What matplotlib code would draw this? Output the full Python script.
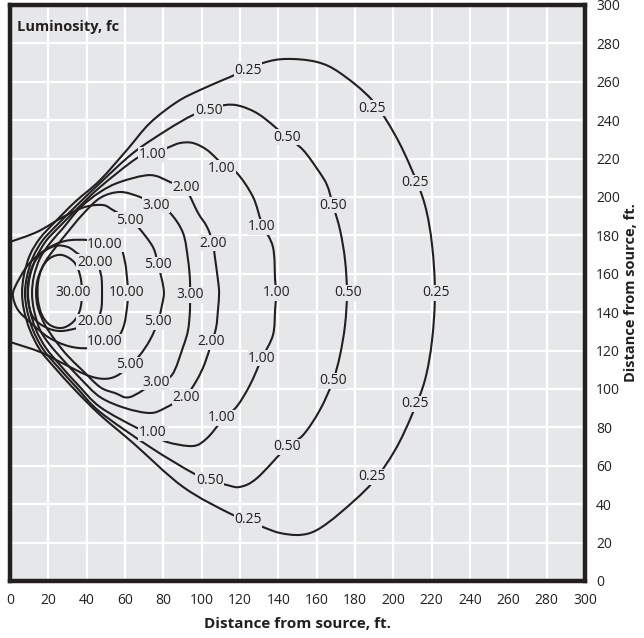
import matplotlib
matplotlib.use("Agg")
import matplotlib.pyplot as plt
from matplotlib import font_manager
from matplotlib.path import Path
from matplotlib.patches import PathPatch

# ---------------- data (in data units: ft) ----------------
x_ticks = list(range(0, 301, 20))
y_ticks = list(range(0, 301, 20))

levels = ["0.25", "0.50", "1.00", "2.00", "3.00", "5.00", "10.00", "20.00", "30.00"]

c025 = [(47.0, 208.8), (61.0, 224.5), (73.0, 238.5), (87.1, 249.5), (99.1, 255.7), (114.8, 262.5),
        (132.0, 269.8), (144.5, 271.9), (160.2, 270.3), (172.2, 264.6), (188.9, 250.5), (200.9, 232.3),
        (209.7, 214.0), (216.5, 195.8), (220.2, 175.0), (221.7, 150.0), (220.2, 125.5), (216.5, 104.7),
        (209.7, 86.5), (200.9, 68.2), (188.9, 51.0), (172.2, 35.4), (160.2, 26.6), (151.3, 24.0),
        (140.9, 25.0), (132.0, 28.1), (116.3, 34.4), (90.3, 49.0), (64.2, 71.9), (47.0, 86.5),
        (33.9, 99.5), (23.5, 110.9), (15.7, 120.3), (10.4, 130.7), (7.3, 141.1), (6.3, 150.0),
        (7.3, 159.4), (10.4, 169.8), (15.7, 178.6), (23.5, 187.0), (33.9, 197.4), (47.0, 208.8)]

c050 = [(47.0, 207.3), (64.2, 222.9), (81.9, 234.9), (95.5, 242.7), (104.0, 245.3), (112.2, 247.9),
        (120.0, 247.4), (130.4, 242.7), (144.5, 231.2), (152.9, 224.5), (160.7, 214.0), (165.4, 206.2),
        (168.5, 195.8), (172.2, 182.8), (174.8, 167.2), (175.8, 150.0), (174.8, 133.3), (172.2, 117.7),
        (168.5, 104.2), (161.7, 89.1), (152.9, 76.0), (144.5, 69.8), (128.9, 53.6), (120.0, 49.0),
        (113.2, 50.0), (104.3, 52.6), (95.5, 56.2), (73.0, 69.8), (47.0, 88.0), (35.0, 100.5),
        (25.0, 111.5), (17.2, 120.8), (12.0, 130.7), (8.9, 141.1), (7.8, 150.0), (8.9, 158.8),
        (12.0, 168.7), (17.2, 177.6), (25.0, 185.9), (35.0, 195.8), (47.0, 207.3)]

c100 = [(47.0, 205.2), (66.3, 220.3), (74.6, 222.4), (81.9, 225.5), (88.7, 228.1), (95.5, 228.1),
        (102.8, 224.5), (110.6, 217.5), (118.4, 212.5), (126.8, 200.0), (131.5, 186.0), (137.2, 173.9),
        (138.3, 156.8), (138.8, 150.0), (138.3, 141.1), (137.2, 128.1), (131.5, 116.1), (125.2, 102.1),
        (118.4, 91.0), (110.6, 83.5), (102.8, 74.4), (95.5, 70.3), (81.9, 72.4), (74.6, 76.5),
        (66.3, 79.7), (47.0, 90.6), (35.5, 102.1), (26.1, 112.5), (18.8, 121.3), (13.6, 130.7),
        (10.4, 141.1), (9.4, 150.0), (10.4, 158.8), (13.6, 168.2), (18.8, 177.1), (26.1, 184.9),
        (35.5, 194.3), (47.0, 205.2)]

c200 = [(47.0, 202.6), (57.4, 207.8), (73.0, 211.4), (83.5, 207.8), (91.8, 203.5), (98.1, 191.7),
        (102.8, 184.4), (105.9, 176.0), (106.9, 168.7), (108.5, 156.8), (109.1, 150.0), (108.5, 141.1),
        (107.5, 131.8), (104.9, 123.5), (101.7, 113.5), (97.5, 104.7), (91.8, 96.8), (80.9, 90.1),
        (73.0, 87.5), (60.0, 90.1), (47.0, 95.8), (36.5, 105.7), (27.7, 115.1), (20.9, 122.9),
        (15.7, 130.7), (12.5, 141.1), (11.5, 150.0), (12.5, 158.8), (15.7, 168.2), (20.9, 176.0),
        (27.7, 183.8), (36.5, 194.3), (47.0, 202.6)]

c300 = [(47.0, 199.5), (57.4, 202.6), (67.8, 200.0), (76.2, 195.8), (83.5, 191.7), (90.3, 181.2),
        (92.9, 167.2), (93.9, 156.8), (93.9, 150.0), (93.9, 141.1), (92.9, 130.7), (90.3, 121.9),
        (84.5, 107.3), (76.2, 103.6), (62.6, 95.8), (54.8, 97.9), (47.0, 101.0), (37.6, 109.9),
        (29.7, 117.7), (23.5, 125.5), (18.3, 133.3), (14.6, 142.2), (13.6, 150.0), (14.6, 157.8),
        (18.3, 166.1), (23.5, 173.4), (29.7, 181.2), (37.6, 190.6), (47.0, 199.5)]

c500 = [(0.0, 176.6), (14.1, 181.8), (27.7, 189.6), (39.1, 194.8), (48.5, 195.8), (53.7, 193.2),
        (62.6, 188.0), (66.8, 184.4), (74.6, 173.9), (77.2, 164.6), (79.3, 156.8), (80.3, 150.0),
        (79.3, 143.7), (77.2, 134.9), (73.0, 125.5), (67.8, 117.7), (62.6, 112.5), (56.0, 107.0),
        (49.0, 105.3), (40.0, 107.3), (26.1, 114.1), (15.7, 119.3), (0.0, 124.5)]

c1000 = [(49.6, 176.0), (57.4, 173.9), (60.0, 166.1), (61.0, 158.3), (61.6, 150.0), (61.0, 142.2),
         (59.5, 133.3), (56.3, 127.1), (49.6, 124.2), (40.7, 121.3), (30.3, 122.4), (19.8, 127.1),
         (10.4, 134.9), (4.2, 141.1), (1.6, 147.9), (2.6, 153.1), (9.4, 164.6), (18.3, 172.4),
         (28.7, 177.1), (40.7, 177.6), (49.6, 176.0)]

c2000 = [(44.3, 166.7), (47.5, 159.4), (48.0, 150.0), (47.5, 141.1), (44.3, 134.4), (35.5, 131.8),
         (26.1, 130.2), (18.3, 132.3), (12.0, 137.5), (9.4, 146.3), (9.4, 155.2), (12.0, 164.6),
         (16.7, 170.8), (23.5, 174.5), (30.3, 173.9), (36.5, 169.8), (44.3, 166.7)]

c3000 = [(27.1, 169.8), (33.4, 166.1), (36.5, 159.4), (37.6, 150.5), (36.5, 141.1), (32.9, 134.9),
         (27.1, 131.8), (20.9, 133.3), (16.7, 138.5), (14.6, 146.3), (14.6, 155.2), (16.7, 163.0),
         (20.9, 168.2), (27.1, 169.8)]

lab025 = [(124.2, 266.1), (188.9, 246.3), (211.3, 207.3), (222.2, 150.0), (211.3, 92.2), (188.9, 54.2), (124.2, 31.8)]
lab050 = [(103.8, 245.3), (144.5, 231.2), (168.5, 195.8), (176.3, 150.0), (168.5, 104.2), (144.5, 69.8), (104.3, 52.6)]
lab100 = [(74.6, 221.9), (110.6, 215.1), (131.5, 184.4), (139.3, 150.0), (131.5, 116.1), (110.6, 84.9), (74.6, 77.1)]
lab200 = [(91.8, 204.7), (105.9, 176.0), (104.9, 124.5), (91.8, 95.8)]
lab300 = [(76.2, 195.8), (93.9, 149.0), (76.2, 103.6)]
lab500 = [(62.6, 188.0), (77.2, 164.6), (77.2, 134.9), (62.6, 112.5)]
lab1000 = [(49.6, 175.5), (61.0, 150.0), (49.6, 124.5)]
lab2000 = [(44.3, 166.1), (44.3, 134.9)]
lab3000 = [(32.9, 150.0)]

curves = [c025, c050, c100, c200, c300, c500, c1000, c2000, c3000]
labels = [lab025, lab050, lab100, lab200, lab300, lab500, lab1000, lab2000, lab3000]

# ---------------- style ----------------
names = {f.name for f in font_manager.fontManager.ttflist}
FONT = "Liberation Sans Narrow" if "Liberation Sans Narrow" in names else "Open Sans"
plt.rcParams["font.family"] = [FONT, "DejaVu Sans"]

BG = "#e6e7e8"
INK = "#231f20"


def smooth_path(pts):
    """Render the read points as a smooth curve through them (Catmull-Rom as Bezier)."""
    closed = pts[0] == pts[-1]
    p = list(pts[:-1]) if closed else list(pts)
    n = len(p)
    verts = [p[0]]
    codes = [Path.MOVETO]
    segs = n if closed else n - 1
    for i in range(segs):
        if closed:
            p0, p1, p2, p3 = p[(i - 1) % n], p[i], p[(i + 1) % n], p[(i + 2) % n]
        else:
            p0 = p[max(i - 1, 0)]
            p1 = p[i]
            p2 = p[i + 1]
            p3 = p[min(i + 2, n - 1)]
        c1 = (p1[0] + (p2[0] - p0[0]) / 6.0, p1[1] + (p2[1] - p0[1]) / 6.0)
        c2 = (p2[0] - (p3[0] - p1[0]) / 6.0, p2[1] - (p3[1] - p1[1]) / 6.0)
        verts += [c1, c2, p2]
        codes += [Path.CURVE4] * 3
    return Path(verts, codes)


fig = plt.figure(figsize=(6.44, 6.38), dpi=100)
ax = fig.add_axes([10 / 644, 57 / 638, 575 / 644, 576 / 638])
ax.set_facecolor(BG)
ax.set_xlim(0, 300)
ax.set_ylim(0, 300)

ax.set_xticks(x_ticks)
ax.set_yticks(y_ticks)
ax.yaxis.tick_right()
ax.yaxis.set_label_position("right")
ax.tick_params(axis="both", length=0, labelsize=10, colors=INK)
ax.tick_params(axis="x", pad=9)
ax.tick_params(axis="y", pad=8)
ax.grid(True, color="white", linewidth=1.6)
ax.set_axisbelow(True)

for s in ax.spines.values():
    s.set_color(INK)
    s.set_linewidth(3.2)

for pts in curves:
    ax.add_patch(PathPatch(smooth_path(pts), fill=False, edgecolor=INK, linewidth=1.5,
                           joinstyle="round", zorder=2))

for lev, labs in zip(levels, labels):
    for (lx, ly) in labs:
        ax.text(lx, ly, lev, ha="center", va="center", fontsize=10, color=INK, zorder=3,
                bbox=dict(boxstyle="square,pad=0.05", fc=BG, ec="none"))

ax.text(0.012, 0.962, "Luminosity, fc", transform=ax.transAxes, ha="left", va="center",
        fontsize=10.5, fontweight="bold", color=INK)

ax.set_xlabel("Distance from source, ft.", fontsize=11, fontweight="bold", color=INK, labelpad=6)
ax.set_ylabel("Distance from source, ft.", fontsize=10.5, fontweight="bold", color=INK,
              rotation=90, labelpad=3)

fig.savefig("out.png", dpi=100, facecolor="white")
